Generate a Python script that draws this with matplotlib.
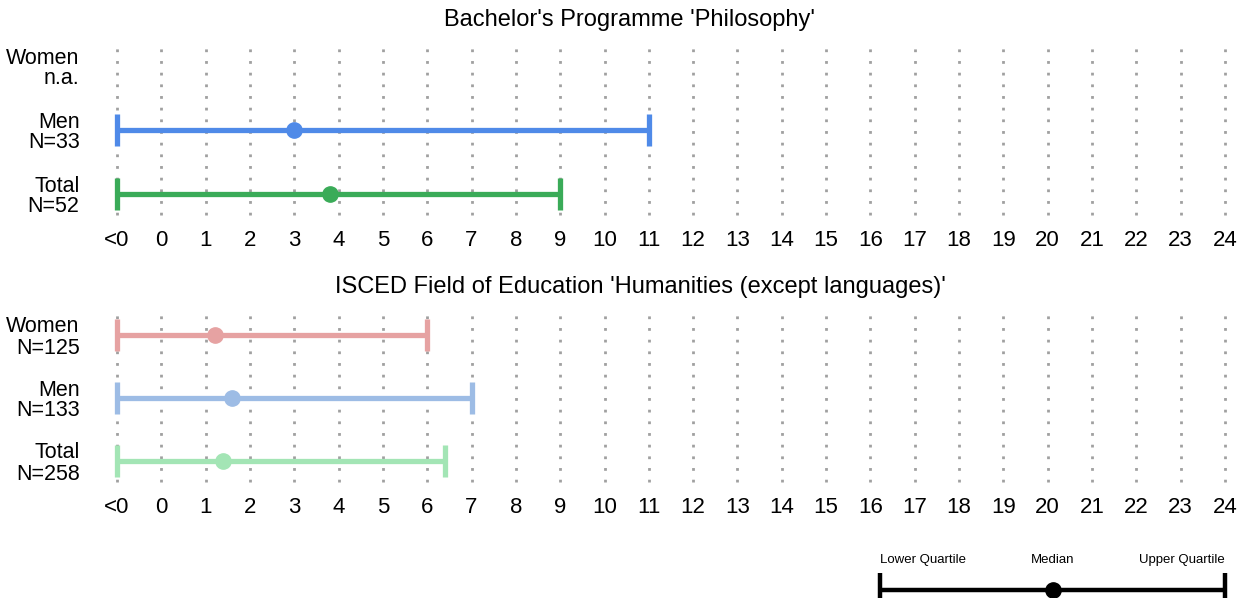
import matplotlib
matplotlib.use("Agg")
import matplotlib.pyplot as plt
import numpy as np

plt.rcParams['font.family'] = ['Liberation Sans', 'DejaVu Sans']

# x axis: position -1 stands for "<0"
tick_pos = list(range(-1, 25))
tick_labels = ['<0'] + [str(i) for i in range(0, 25)]

# panel 1: Bachelor's Programme 'Philosophy'
p1_title = "Bachelor's Programme 'Philosophy'"
p1_rows = ['Women\nn.a.', 'Men\nN=33', 'Total\nN=52']
p1_lower = [None, -1, -1]
p1_median = [None, 3.0, 3.8]
p1_upper = [None, 11, 9]
p1_colors = ['#e06666', '#4f8ae8', '#3aab58']

# panel 2: ISCED field
p2_title = "ISCED Field of Education 'Humanities (except languages)'"
p2_rows = ['Women\nN=125', 'Men\nN=133', 'Total\nN=258']
p2_lower = [-1, -1, -1]
p2_median = [1.2, 1.6, 1.4]
p2_upper = [6.0, 7.0, 6.4]
p2_colors = ['#e6a2a2', '#9dbce5', '#a3e5b5']

legend_labels = ['Lower Quartile', 'Median', 'Upper Quartile']
legend_pos = [0, 1, 2]
legend_align = ['left', 'center', 'right']

W, H = 1248, 598
fig = plt.figure(figsize=(W / 100, H / 100), dpi=100)

def px_axes(x0, y0, x1, y1):
    # pixel box (from top-left) -> figure axes
    return fig.add_axes([x0 / W, 1 - y1 / H, (x1 - x0) / W, (y1 - y0) / H])


def panel(ytop, ybot, row_px, title, title_x, title_y, rows, lo, med, hi, colors):
    ax = px_axes(117, ytop, 1225, ybot)
    step = row_px[1] - row_px[0]
    # rows from top: 0,1,2 (inverted)
    ax.set_ylim((ybot - row_px[0]) / step, -(row_px[0] - ytop) / step)
    ax.set_xlim(-1, 24)
    for x in tick_pos:
        ax.plot([x, x], [ax.get_ylim()[0], ax.get_ylim()[1]], color='#a0a0a0',
                lw=2, linestyle=(0, (1, 3.2)), clip_on=False, zorder=1)
    for i in range(len(rows)):
        if lo[i] is None:
            continue
        ax.plot([lo[i], hi[i]], [i, i], color=colors[i], lw=3.8,
                solid_capstyle='butt', clip_on=False, zorder=3)
        ax.plot([lo[i], hi[i]], [i, i], linestyle='none', marker='|',
                markersize=23, markeredgewidth=3.8, color=colors[i],
                clip_on=False, zorder=3)
        ax.plot([med[i]], [i], 'o', markersize=11, color=colors[i],
                clip_on=False, zorder=4)
    ax.set_yticks(range(len(rows)))
    ax.set_yticklabels(rows, fontsize=15.5, linespacing=1.0)
    ax.set_xticks(tick_pos)
    ax.set_xticklabels(tick_labels, fontsize=16)
    ax.tick_params(axis='both', length=0)
    ax.tick_params(axis='x', pad=11)
    ax.tick_params(axis='y', pad=27)
    for s in ax.spines.values():
        s.set_visible(False)
    ax.patch.set_alpha(0)
    fig.text(title_x / W, 1 - title_y / H, title, ha='center', va='center',
             fontsize=17)
    return ax


panel(45, 215, [66, 130, 193], p1_title, 629, 20, p1_rows,
      p1_lower, p1_median, p1_upper, p1_colors)
panel(312, 482, [335, 398, 461], p2_title, 640, 287, p2_rows,
      p2_lower, p2_median, p2_upper, p2_colors)

# legend
lax = px_axes(880, 540, 1225, 598)
lax.set_xlim(0, 2)
lax.set_ylim(0, 1)
lax.axis('off')
ly = 0.14
lax.plot([legend_pos[0], legend_pos[2]], [ly, ly], color='black', lw=3.2,
         solid_capstyle='butt', clip_on=False)
lax.plot([legend_pos[0], legend_pos[2]], [ly, ly], linestyle='none', marker='|',
         markersize=24, markeredgewidth=3.2, color='black', clip_on=False)
lax.plot([legend_pos[1]], [ly], 'o', markersize=11, color='black', clip_on=False)
for p, t, a in zip(legend_pos, legend_labels, legend_align):
    lax.text(p, 0.66, t, ha=a, va='center', fontsize=9.5)

fig.savefig('out.png', dpi=100)
